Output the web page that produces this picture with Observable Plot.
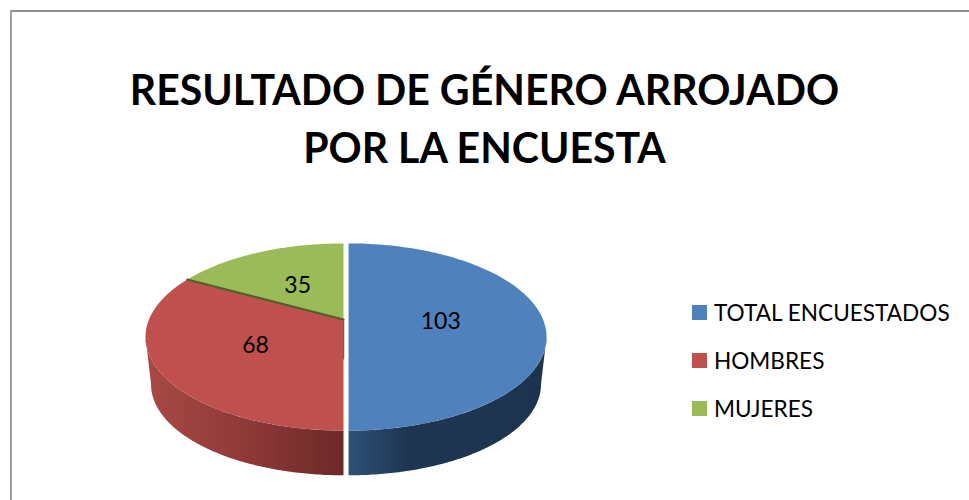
<!DOCTYPE html>
<html lang="es">
<head>
<meta charset="utf-8">
<script src="https://cdn.jsdelivr.net/npm/d3@7"></script>
<script src="https://cdn.jsdelivr.net/npm/@observablehq/plot@0.6"></script>
<style>
html,body{margin:0;padding:0;background:#fff;overflow:hidden}
#page{position:relative;width:969px;height:500px;font-family:Lato,"Open Sans",sans-serif;color:#000}
#frameTop{position:absolute;left:10px;top:10px;right:0;height:2px;background:#8f8f8f}
#frameLeft{position:absolute;left:10px;top:10px;bottom:0;width:2px;background:#a0a0a0}
#title{position:absolute;left:0;top:60px;width:969px;text-align:center;font-weight:700;font-size:42.5px;line-height:57.5px;transform:scaleX(0.966);transform-origin:484px 0}
#chart{position:absolute;left:0;top:200px}
.item{position:absolute;left:692px;height:24px;display:flex;align-items:center;white-space:nowrap;font-size:22.6px}
.swatch{width:15px;height:15px;margin-right:7px;flex:none}
</style>
</head>
<body>
<div id="page">
  <div id="frameTop"></div><div id="frameLeft"></div>
  <div id="title"></div>
  <div id="chart"></div>
  <div id="legend"></div>
</div>
<script>
const titleLines = ["RESULTADO DE GÉNERO ARROJADO", "POR LA ENCUESTA"];
const categories = ["TOTAL ENCUESTADOS", "HOMBRES", "MUJERES"];
const values = [103, 68, 35];
const colors = ["#4f81bd", "#c0504d", "#9bbb59"];
const legendTops = [300, 348, 396];

// 3D look of the pie: perspective tilt, blue slice pulled out, wall depth
const tilt = 0.187, explode = [0.026, 0, 0], wallScale = 0.972, wallDrop = 0.53;
const plane = (u, v) => ({x: u / (1 + tilt * v), y: v / (1 + tilt * v)});

const arcs = d3.pie().sort(null)(values);
const rim = (a, b) => d3.range(0, 121).map(i => a + (b - a) * i / 120);
const at = (t, r = 1) => [r * Math.sin(t), r * Math.cos(t)];

const topFace = arcs.flatMap((s, i) => {
  const dx = explode[i];
  const ring = rim(s.startAngle, s.endAngle).map(t => plane(...at(t)));
  return [{x: 0, y: 0}, ...ring, {x: 0, y: 0}]
    .map(p => ({x: p.x + dx, y: p.y, name: categories[i]}));
});

// walls only run along the visible front of the rim, between the two silhouette angles
const edgeRight = Math.acos(-tilt), edgeLeft = 2 * Math.PI - edgeRight;
const wall = i => {
  const s = arcs[i], dx = explode[i];
  const a = Math.max(s.startAngle, edgeRight), b = Math.min(s.endAngle, edgeLeft);
  const ts = rim(a, b).map(t => plane(...at(t)));
  const upper = ts.map(p => ({x: p.x + dx, y: p.y}));
  const lower = ts.map(p => ({x: p.x * wallScale + dx, y: p.y * wallScale - wallDrop})).reverse();
  return [...upper, ...lower, upper[0]];
};

const labels = arcs.map((s, i) => {
  const p = plane(...at((s.startAngle + s.endAngle) / 2, 0.5));
  return {x: p.x, y: p.y, value: values[i]};
});

const seam = [{x: 0, y: 0}, plane(...at(arcs[2].startAngle))];
const cut = [{x: 0, y: 0}, {x: 0, y: -wallDrop * 0.82}];

const gradient = (id, stops) => () => {
  const defs = d3.create("svg:defs");
  const g = defs.append("linearGradient").attr("id", id);
  stops.forEach(([o, c]) => g.append("stop").attr("offset", o).attr("stop-color", c));
  return defs.node();
};

const plot = Plot.plot({
  width: 969, height: 300, margin: 0,
  x: {domain: [-1, 1], range: [343 - 194.5, 343 + 194.5], axis: null},
  y: {domain: [-1, 1], range: [119 + 90.3, 119 - 90.3], axis: null},
  color: {domain: categories, range: colors},
  style: {background: "transparent", overflow: "visible"},
  marks: [
    gradient("wallBlue", [[0, "#2e5078"], [0.3, "#1f3652"], [1, "#1d3450"]]),
    gradient("wallRed", [[0, "#a84a45"], [0.55, "#8c3836"], [1, "#6c2928"]]),
    Plot.line(wall(1), {x: "x", y: "y", fill: "url(#wallRed)", stroke: "none"}),
    Plot.line(wall(0), {x: "x", y: "y", fill: "url(#wallBlue)", stroke: "none"}),
    Plot.line(cut, {x: "x", y: "y", stroke: "#55602f", strokeWidth: 1.5}),
    Plot.line(topFace, {x: "x", y: "y", z: "name", fill: "name", stroke: "none"}),
    Plot.line(seam, {x: "x", y: "y", stroke: "#4d6126", strokeWidth: 2}),
    Plot.text(labels, {x: "x", y: "y", dy: 2, text: "value", fill: "#000", fontSize: 23, fontFamily: "Lato, 'Open Sans', sans-serif"})
  ]
});
document.getElementById("chart").append(plot);

document.getElementById("title").innerHTML = titleLines.join("<br>");
const legend = document.getElementById("legend");
categories.forEach((c, i) => {
  const row = document.createElement("div");
  row.className = "item";
  row.style.top = legendTops[i] + "px";
  const sw = document.createElement("span");
  sw.className = "swatch";
  sw.style.background = colors[i];
  const tx = document.createElement("span");
  tx.textContent = c;
  row.append(sw, tx);
  legend.append(row);
});
</script>
</body>
</html>
